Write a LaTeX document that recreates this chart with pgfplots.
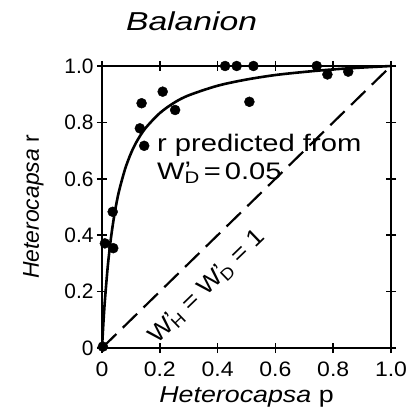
\documentclass[border=0pt]{standalone}
\usepackage{fontspec}
\setmainfont{Liberation Sans}
\newfontfamily\wideA[FakeStretch=1.3]{Liberation Sans}
\newfontfamily\wideB[FakeStretch=1.22]{Liberation Sans}
\newfontfamily\wideC[FakeStretch=1.17]{Liberation Sans}
\newfontfamily\wideD[FakeStretch=1.1]{Liberation Sans}
\usepackage{pgfplots}
\pgfplotsset{compat=1.18}
\newcommand{\Wp}[1]{W\rlap{\raisebox{0.05em}{\char"2019}}\textsubscript{#1}}
\begin{document}
\begin{tikzpicture}
\begin{axis}[
  scale only axis, width=289bp, height=282bp,
  xmin=0, xmax=1, ymin=0, ymax=1,
  axis line style={line width=1.8bp},
  every tick/.style={line width=1.5bp, black},
  tick align=center, major tick length=10bp,
  xtick={0,0.2,0.4,0.6,0.8,1.0}, ytick={0,0.2,0.4,0.6,0.8,1.0},
  xticklabels={0,0.2,0.4,0.6,0.8,1.0}, yticklabels={0,0.2,0.4,0.6,0.8,1.0},
  tick label style={font=\wideD\fontsize{21}{24}\selectfont},
  yticklabel style={font=\fontsize{21}{24}\selectfont},
  xticklabel style={yshift=-5bp},
  /pgf/number format/assume math mode=true,
  xlabel={\textit{Heterocapsa} p}, ylabel={\textit{Heterocapsa} r},
  xlabel style={font=\wideC\fontsize{23}{26}\selectfont, yshift=-4bp},
  ylabel style={font=\fontsize{23}{26}\selectfont, yshift=14bp},
  clip=false,
]
\addplot[black, line width=2.6bp, smooth] coordinates {
(0,0) (0.005,0.0913) (0.01,0.168) (0.02,0.290) (0.03,0.382) (0.04,0.4545) (0.05,0.513) (0.06,0.561) (0.08,0.635) (0.10,0.690) (0.12,0.732) (0.15,0.779) (0.2,0.833) (0.25,0.870) (0.3,0.896) (0.4,0.930) (0.5,0.952) (0.6,0.968) (0.7,0.979) (0.8,0.988) (0.9,0.9945) (1.0,1.0)
};
\addplot[black, line width=2.2bp, dash pattern=on 20bp off 9bp] coordinates {(0,0) (1,1)};
\addplot[only marks, mark=*, mark size=5bp, black] coordinates {
(0.137,0.868) (0.21,0.909) (0.253,0.844) (0.131,0.779) (0.146,0.717) (0.51,0.873)
(0.037,0.483) (0.010,0.371) (0.039,0.354) (0.426,1.0) (0.466,1.0) (0.524,1.0)
(0.743,1.0) (0.78,0.97) (0.852,0.98) (0.003,0.005)
};
\node[anchor=base west, font=\wideB\fontsize{24}{26}\selectfont, inner sep=0] at (axis cs:0.19,0.696) {r predicted from};
\node[anchor=base west, font=\wideB\fontsize{24}{26}\selectfont, inner sep=0] at (axis cs:0.19,0.596) {\Wp{D}\,=\,0.05};
\node[rotate=44, font=\wideD\fontsize{24}{26}\selectfont, inner sep=0] at (axis cs:0.363,0.218) {\Wp{H} = \Wp{D} = 1};
\node[font=\wideA\itshape\fontsize{26}{28}\selectfont] at (rel axis cs:0.31,1.16) {Balanion};
\coordinate (O) at (rel axis cs:0,0);
\coordinate (T) at (rel axis cs:1,1);
\end{axis}
\pgfresetboundingbox
\path ([shift={(-102bp,-71bp)}]O) rectangle ([shift={(23bp,66bp)}]T);
\end{tikzpicture}
\end{document}
